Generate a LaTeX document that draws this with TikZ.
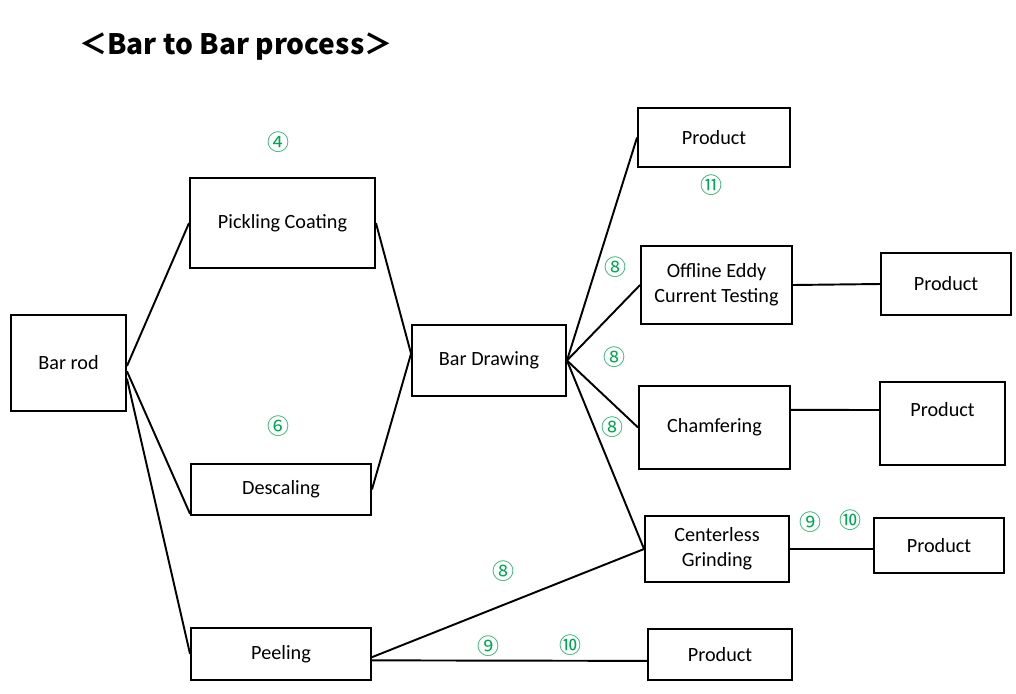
\documentclass[tikz,border=0pt]{standalone}
\usepackage{fontspec}
\setmainfont{Carlito}
\newfontfamily\cjk{Noto Sans CJK JP}
\usepackage{tikz}
\definecolor{numgreen}{RGB}{0,166,80}

\begin{document}
\begin{tikzpicture}[
  x=0.02cm, y=-0.02cm,
  font=\fontsize{11.5}{14}\selectfont,
  box/.style={draw,line width=1.1pt,align=center,inner sep=0pt},
  num/.style={text=numgreen,font=\cjk\fontsize{12.5}{14}\selectfont,inner sep=0pt},
  ln/.style={line width=1.1pt}
]
\useasboundingbox (0,0) rectangle (1016,693);

% title
\node[font=\cjk\bfseries\fontsize{16}{20}\selectfont,anchor=west] (title) at (73,47) {＜Bar to Bar process＞};

% first column
\node[box,minimum width=2.3cm,minimum height=1.92cm] (rod) at (68.5,363) {Bar rod};
\node[box,minimum width=3.7cm,minimum height=1.8cm] (pick) at (282.5,223) {Pickling Coating};
\node[box,minimum width=3.6cm,minimum height=1.02cm] (desc) at (281,489.5) {Descaling};
\node[box,minimum width=3.6cm,minimum height=1.04cm] (peel) at (281,654) {Peeling};
\node[box,minimum width=3.08cm,minimum height=1.42cm] (bdraw) at (489,360.5) {Bar Drawing};

% second column
\node[box,minimum width=3.04cm,minimum height=1.18cm] (prod1) at (714,137.5) {Product};
\node[box,minimum width=3.02cm,minimum height=1.56cm] (eddy) at (716.5,285) {Offline Eddy\\Current Testing};
\node[box,minimum width=3.02cm,minimum height=1.66cm] (chamf) at (714.5,427.5) {Chamfering};
\node[box,minimum width=2.88cm,minimum height=1.32cm] (grind) at (717,549) {Centerless\\Grinding};
\node[box,minimum width=2.88cm,minimum height=1.02cm] (prodP) at (720,654.5) {Product};

% products
\node[box,minimum width=2.6cm,minimum height=1.24cm] (prodE) at (946,284) {Product};
\node[box,minimum width=2.5cm,text height=0.68cm,text depth=0.98cm] (prodC) at (942.5,423.5) {Product};
\node[box,minimum width=2.6cm,minimum height=1.1cm] (prodG) at (939,545.5) {Product};

% connectors
\draw[ln] (rod.-3) -- (pick.west);
\draw[ln] (rod.-8) -- (desc.-165);
\draw[ln] (rod.-15) -- (peel.west);
\draw[ln] (pick.east) -- (bdraw.175);
\draw[ln] (desc.east) -- (bdraw.175);
\draw[ln] (bdraw.east) -- (prod1.west);
\draw[ln] (bdraw.east) -- (eddy.west);
\draw[ln] (bdraw.east) -- (chamf.west);
\draw[ln] (bdraw.east) -- (grind.west);
\draw[ln] (peel.-2) -- (grind.west);
\draw[ln] (peel.-4) -- (prodP.185);
\draw[ln] (eddy.east) -- (prodE.west);
\draw[ln] (chamf.13) -- (prodC.168);
\draw[ln] (grind.east) -- (prodG.183);

% step numbers
\node[num] (n4)  at (278,142) {④};
\node[num] (n6)  at (278,426) {⑥};
\node[num] (n11) at (711,185) {⑪};
\node[num] (n8a) at (615,267) {⑧};
\node[num] (n8b) at (614,357) {⑧};
\node[num] (n8c) at (612,427) {⑧};
\node[num] (n9a) at (810,522) {⑨};
\node[num] (n10a) at (850,520) {⑩};
\node[num] (n8d) at (503,571) {⑧};
\node[num] (n9b) at (488,646) {⑨};
\node[num] (n10b) at (570,645) {⑩};
\end{tikzpicture}
\end{document}
